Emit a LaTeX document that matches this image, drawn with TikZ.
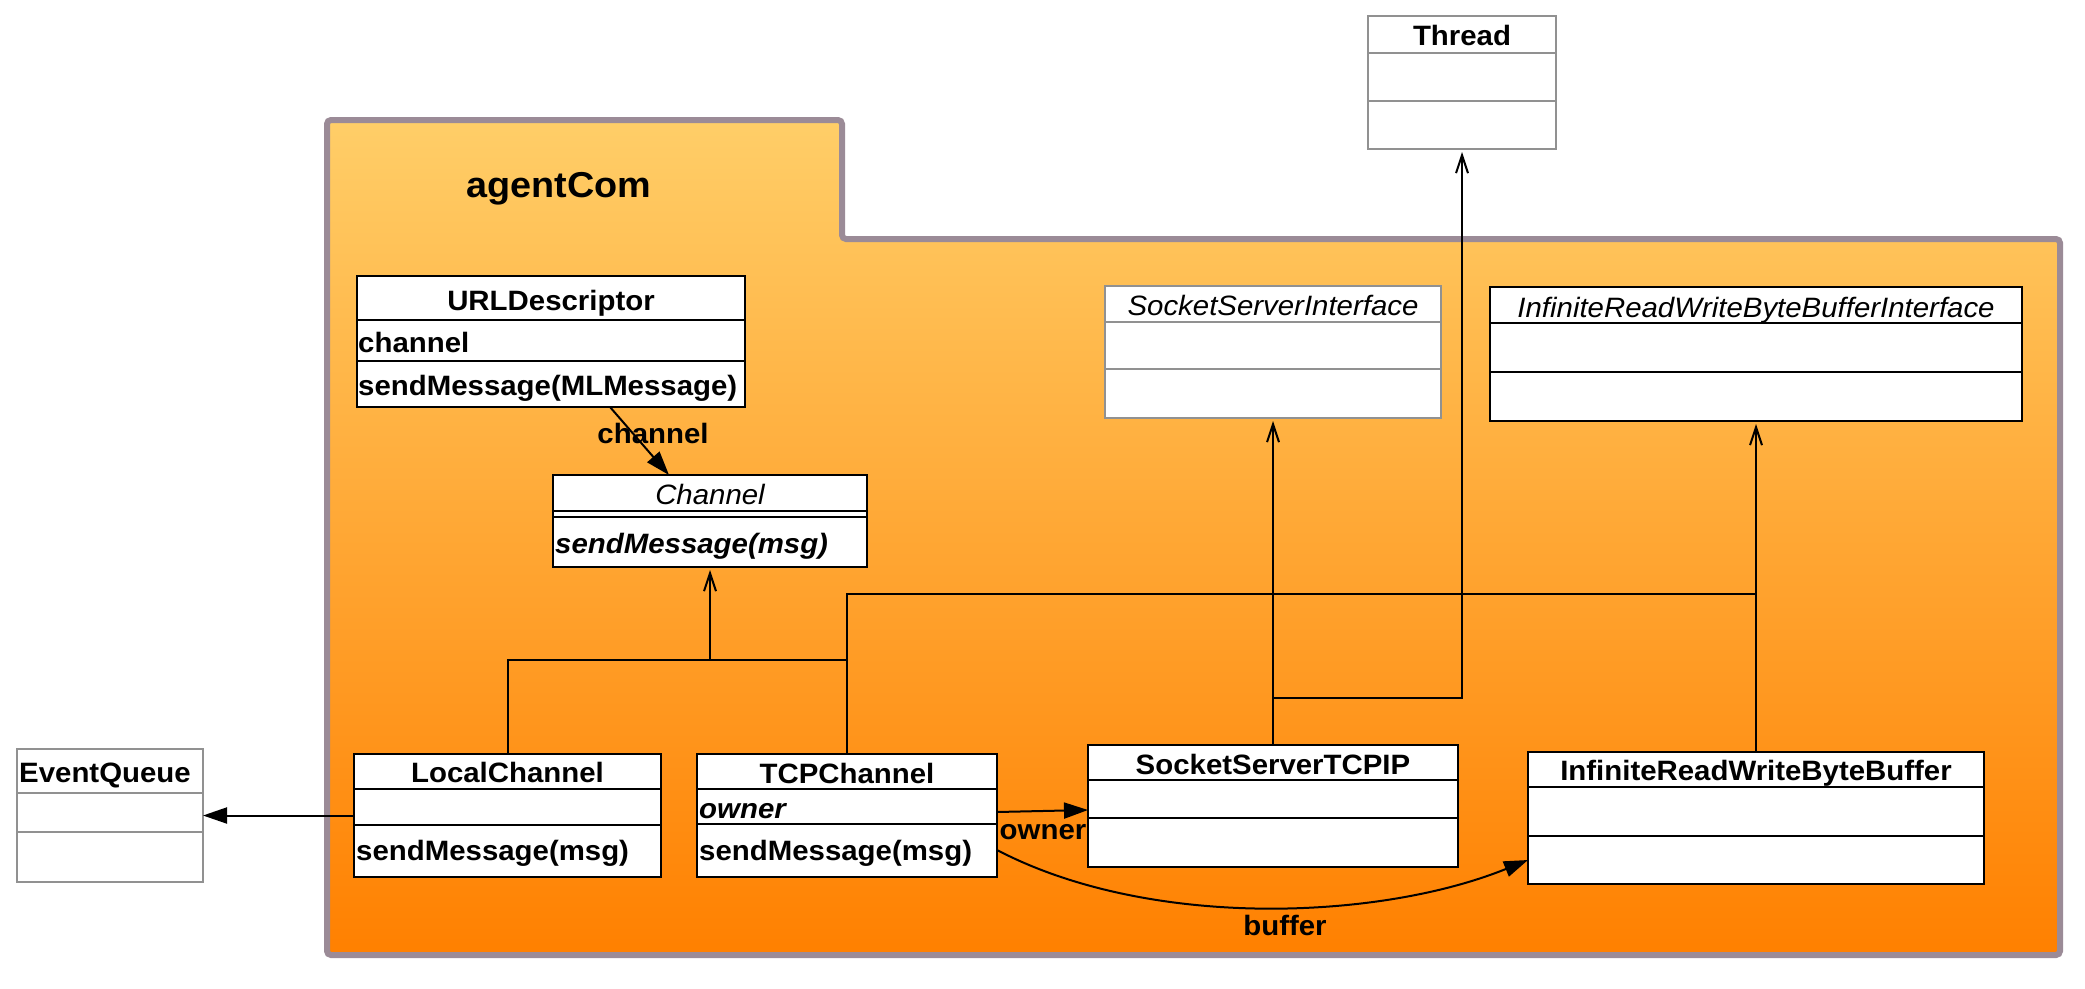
\documentclass[tikz,border=0pt]{standalone}
\usepackage{fontspec}
\setmainfont{Liberation Sans}[FakeStretch=1.05]
\usetikzlibrary{arrows.meta,calc}
\definecolor{pkgborder}{RGB}{155,139,151}
\definecolor{pkgtop}{RGB}{255,206,104}
\definecolor{pkgbot}{RGB}{255,128,0}
\definecolor{grayline}{RGB}{145,145,145}
\tikzset{
  box/.style={draw=black, line width=2.5pt, fill=white, inner sep=0pt, outer sep=0pt},
  graybox/.style={box, draw=grayline},
  divline/.style={draw=black, line width=2.5pt},
  graydiv/.style={draw=grayline, line width=2.5pt},
  ttl/.style={font=\fontsize{28}{32}\selectfont\bfseries, inner sep=0pt, anchor=base},
  ttli/.style={font=\fontsize{28}{32}\selectfont\itshape, inner sep=0pt, anchor=base},
  txt/.style={font=\fontsize{28}{32}\selectfont\bfseries, inner sep=0pt, anchor=base west},
  txti/.style={font=\fontsize{28}{32}\selectfont\bfseries\itshape, inner sep=0pt, anchor=base west},
  lbl/.style={font=\fontsize{28}{32}\selectfont\bfseries, inner sep=0pt, anchor=base},
  conn/.style={draw=black, line width=2pt},
  gen/.style={conn, -{Straight Barb[length=18pt,width=12pt,line width=2pt]}, shorten >=3pt},
  assoc/.style={conn, -{Triangle[length=24pt,width=16pt]}},
}
\newcommand\umlbox[6]{%
  \node[#6, minimum width={(#4-#2)*1pt}, minimum height={(#5-#3)*1pt}, anchor=north west] (#1) at (#2,#3) {};}
\newcommand\umldiv[3]{%
  \draw[#3] (#1.west |- 0,#2) -- (#1.east |- 0,#2);}
\begin{document}
\begin{tikzpicture}[x=1pt,y=-1pt]
\useasboundingbox (0,0) rectangle (2085,988);
% package
\shade[top color=pkgtop, bottom color=pkgbot] (327,120) -- (842,120) -- (842,239) -- (2060,239) -- (2060,955) -- (327,955) -- cycle;
\draw[pkgborder, line width=6pt, rounded corners=4pt] (327,120) -- (842,120) -- (842,239) -- (2060,239) -- (2060,955) -- (327,955) -- cycle;
\node[font=\fontsize{36}{40}\selectfont\bfseries, inner sep=0pt, anchor=base] (pkgname) at (559,197) {agentCom};

% boxes
\umlbox{thread}{1368}{16}{1556}{149}{graybox}
\umldiv{thread}{53}{graydiv}\umldiv{thread}{101}{graydiv}
\umlbox{ssi}{1105}{286}{1441}{418}{graybox}
\umldiv{ssi}{322}{graydiv}\umldiv{ssi}{369}{graydiv}
\umlbox{irwbbi}{1490}{287}{2022}{421}{box}
\umldiv{irwbbi}{323}{divline}\umldiv{irwbbi}{372}{divline}
\umlbox{url}{357}{276}{745}{407}{box}
\umldiv{url}{320}{divline}\umldiv{url}{361}{divline}
\umlbox{chan}{553}{475}{867}{567}{box}
\umldiv{chan}{511}{divline}\umldiv{chan}{517}{divline}
\umlbox{eq}{17}{749}{203}{882}{graybox}
\umldiv{eq}{793}{graydiv}\umldiv{eq}{832}{graydiv}
\umlbox{local}{354}{754}{661}{877}{box}
\umldiv{local}{789}{divline}\umldiv{local}{825}{divline}
\umlbox{tcp}{697}{754}{997}{877}{box}
\umldiv{tcp}{789}{divline}\umldiv{tcp}{824}{divline}
\umlbox{sstcp}{1088}{745}{1458}{867}{box}
\umldiv{sstcp}{780}{divline}\umldiv{sstcp}{818}{divline}
\umlbox{irwbb}{1528}{752}{1984}{884}{box}
\umldiv{irwbb}{787}{divline}\umldiv{irwbb}{836}{divline}

% texts
\node[ttl] (threadT) at (1462,45) {Thread};
\node[ttli] (ssiT) at (1273,315) {SocketServerInterface};
\node[ttli] (irwbbiT) at (1756,317) {InfiniteReadWriteByteBufferInterface};
\node[ttl] (urlT) at (551,310) {URLDescriptor};
\node[txt] (urlA) at (358,352) {channel};
\node[txt] (urlM) at (358,395) {sendMessage(MLMessage)};
\node[ttli] (chanT) at (710,504) {Channel};
\node[txti] (chanM) at (555,553) {sendMessage(msg)};
\node[txt] (eqT) at (19,782) {EventQueue};
\node[ttl] (localT) at (507.5,782) {LocalChannel};
\node[txt] (localM) at (356,860) {sendMessage(msg)};
\node[ttl] (tcpT) at (847,783) {TCPChannel};
\node[txti] (tcpA) at (699,818) {owner};
\node[txt] (tcpM) at (699,860) {sendMessage(msg)};
\node[ttl] (sstcpT) at (1273,774) {SocketServerTCPIP};
\node[ttl] (irwbbT) at (1756,780) {InfiniteReadWriteByteBuffer};

% connectors
\draw[assoc] ([xshift=253pt]url.south west) -- ([xshift=116pt]chan.north west);
\node[lbl] (lchan) at (653,443) {channel};

\coordinate (jc) at (710,660);
\draw[conn] (local.north) |- (jc) -| (tcp.north);
\draw[gen] (jc) -- (chan.south);
\draw[conn] (tcp.north) |- (irwbb.north |- 0,594);
\draw[gen] (irwbb.north) -- (irwbbi.south);
\draw[gen] (sstcp.north) -- (ssi.south);
\draw[gen] (sstcp.north |- 0,698) -| (thread.south);

\draw[assoc] (local.west) -- (eq.east);
\draw[assoc] ([yshift=-58pt]tcp.north east) -- ([yshift=-65pt]sstcp.north west);
\node[lbl] (lowner) at (1043,839) {owner};
\draw[assoc] ([yshift=-96pt]tcp.north east) .. controls (1150,930) and (1380,920) .. ([yshift=-108pt]irwbb.north west);
\node[lbl] (lbuffer) at (1285,935) {buffer};
\end{tikzpicture}
\end{document}
